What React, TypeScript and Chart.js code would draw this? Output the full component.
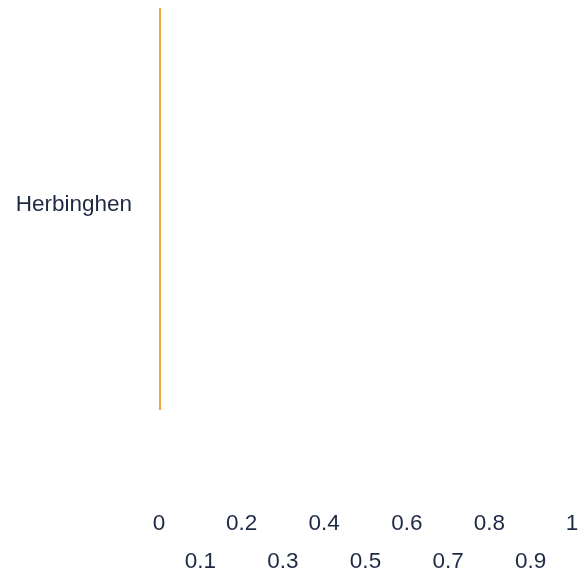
import React, { useEffect, useRef } from "react";
import { Chart, registerables } from "chart.js";

Chart.register(...registerables);

const categories: string[] = ["Herbinghen"];
const values: number[] = [0.004];
const xTicks: number[] = [0, 0.1, 0.2, 0.3, 0.4, 0.5, 0.6, 0.7, 0.8, 0.9, 1];

const TEXT = "#1e2a45";
const BAR = "#f2a43c";
const FONT = "'Liberation Sans', Arial, sans-serif";

export default function App() {
  const ref = useRef<HTMLCanvasElement | null>(null);

  useEffect(() => {
    const prevMargin = document.body.style.margin;
    document.body.style.margin = "0";
    const ctx = ref.current!.getContext("2d")!;
    const chart = new Chart(ctx, {
      type: "bar",
      data: {
        labels: categories,
        datasets: [
          {
            data: values,
            backgroundColor: BAR,
            borderWidth: 0,
            barPercentage: 1,
            categoryPercentage: 1,
          },
        ],
      },
      options: {
        indexAxis: "y",
        animation: false,
        responsive: false,
        maintainAspectRatio: false,
        layout: { padding: { top: 8, right: 14, left: 0, bottom: 0 } },
        plugins: { legend: { display: false }, tooltip: { enabled: false } },
        scales: {
          x: {
            type: "linear",
            min: xTicks[0],
            max: xTicks[xTicks.length - 1],
            afterBuildTicks: (scale: any) => {
              scale.ticks = xTicks.map((v) => ({ value: v }));
            },
            afterFit: (scale: any) => {
              scale.height = 163;
              scale.paddingLeft = 0;
              scale.paddingRight = 0;
              scale.paddingTop = 0;
              scale.paddingBottom = 0;
            },
            grid: { display: false, drawTicks: false },
            border: { display: false },
            ticks: {
              autoSkip: false,
              maxRotation: 0,
              minRotation: 0,
              padding: 95,
              color: TEXT,
              font: { family: FONT, size: 22.5, lineHeight: "38px" as any },
              callback: (value: any, index: number) => {
                const s = String(Number(Number(value).toFixed(1)));
                return index % 2 === 1 ? ["", s] : [s];
              },
            },
          },
          y: {
            type: "category",
            afterFit: (scale: any) => {
              scale.width = 159;
              scale.paddingLeft = 0;
              scale.paddingRight = 0;
              scale.paddingTop = 0;
              scale.paddingBottom = 0;
            },
            grid: { display: false, drawTicks: false },
            border: { display: false },
            ticks: {
              padding: 27,
              labelOffset: -4,
              color: TEXT,
              font: { family: FONT, size: 22.5 },
            },
          },
        },
      },
    });
    return () => {
      chart.destroy();
      document.body.style.margin = prevMargin;
    };
  }, []);

  return (
    <div style={{ position: "fixed", left: 0, top: 0, width: 586, height: 573, background: "#fff" }}>
      <canvas ref={ref} width={586} height={573} style={{ width: 586, height: 573, display: "block" }} />
    </div>
  );
}
